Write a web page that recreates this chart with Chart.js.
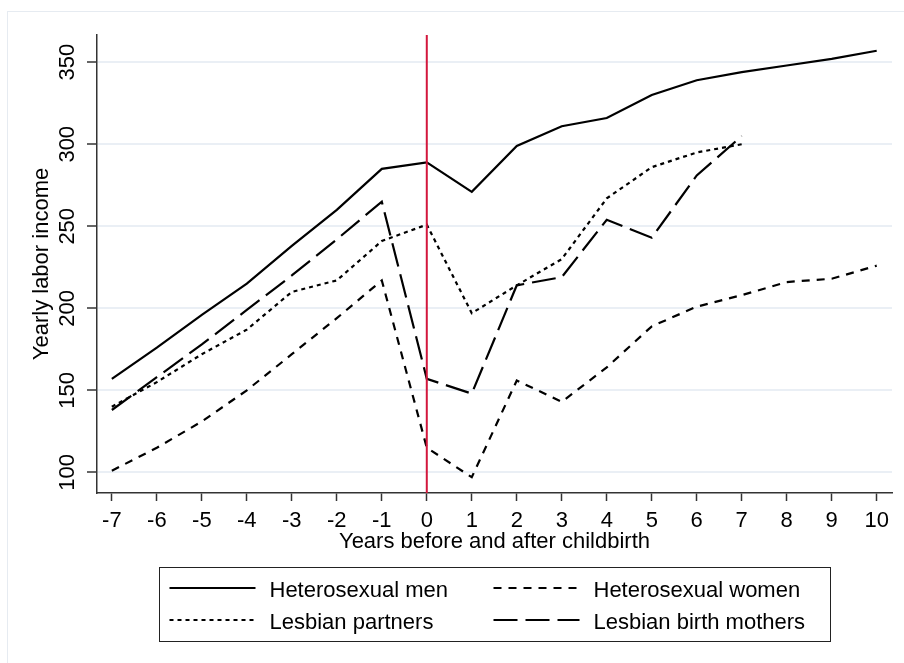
<!DOCTYPE html>
<html lang="en">
<head>
    <meta charset="UTF-8">
    <title>Yearly labor income around childbirth</title>
    <script src="https://cdn.jsdelivr.net/npm/chart.js"></script>
    <style>
        body {
            margin: 0;
            background-color: #fff;
        }
    </style>
</head>
<body>
    <canvas id="incomeChart" width="904" height="663"></canvas>
    <script>
        const years = [-7, -6, -5, -4, -3, -2, -1, 0, 1, 2, 3, 4, 5, 6, 7, 8, 9, 10];
        const yTicks = [100, 150, 200, 250, 300, 350];
        const birthYear = 0;

        const menIncome = [157, 176, 196, 215, 238, 260, 285, 289, 271, 299, 311, 316, 330, 339, 344, 348, 352, 357];
        const womenIncome = [101, 115, 131, 150, 172, 194, 217, 115, 97, 156, 143, 164, 189, 201, 208, 216, 218, 226];
        // lesbian couples are only observed up to year 7
        const partnersIncome = [140, 155, 172, 187, 210, 217, 241, 251, 197, 214, 230, 267, 286, 295, 300];
        const mothersIncome = [138, 158, 178, 199, 220, 242, 265, 157, 148, 214, 219, 254, 243, 281, 305];

        const FONT = '"Liberation Sans", Arial, sans-serif';

        function toPoints(values) {
            return values.map((v, i) => ({ x: years[i], y: v }));
        }

        function series(label, values, dash) {
            return {
                label: label,
                data: toPoints(values),
                borderColor: '#000',
                borderWidth: 2.2,
                borderDash: dash,
                pointRadius: 0,
                tension: 0,
                fill: false
            };
        }

        const decorations = {
            id: 'decorations',
            beforeDraw(chart) {
                const ctx = chart.ctx;
                ctx.save();
                ctx.strokeStyle = '#e6ebf1';
                ctx.lineWidth = 1;
                ctx.strokeRect(7.5, 11.5, chart.width, chart.height);
                ctx.restore();
            },
            afterDatasetsDraw(chart) {
                const { ctx, chartArea, scales } = chart;
                const x = scales.x, y = scales.y;

                // childbirth marker
                const px = x.getPixelForValue(birthYear);
                ctx.save();
                ctx.strokeStyle = '#d3173d';
                ctx.lineWidth = 2;
                ctx.beginPath();
                ctx.moveTo(px, chartArea.top);
                ctx.lineTo(px, chartArea.bottom);
                ctx.stroke();

                // y tick labels, rotated like the original
                ctx.fillStyle = '#000';
                ctx.font = '22px ' + FONT;
                ctx.textAlign = 'center';
                ctx.textBaseline = 'middle';
                y.ticks.forEach(t => {
                    const py = y.getPixelForValue(t.value);
                    ctx.save();
                    ctx.translate(y.right - 29, py);
                    ctx.rotate(-Math.PI / 2);
                    ctx.fillText(String(t.value), 0, 0);
                    ctx.restore();
                });
                ctx.restore();
            },
            afterDraw(chart) {
                const { ctx, chartArea, scales } = chart;
                const boxW = 671, boxH = 74;
                const cx = (chartArea.left + chartArea.right) / 2;
                const bx = Math.round(cx - boxW / 2) + 0.5;
                const by = Math.round(scales.x.bottom + 12) + 0.5;

                ctx.save();
                ctx.strokeStyle = '#222';
                ctx.lineWidth = 1;
                ctx.strokeRect(bx, by, boxW, boxH);

                ctx.font = '22px ' + FONT;
                ctx.fillStyle = '#000';
                ctx.textAlign = 'left';
                ctx.textBaseline = 'middle';
                chart.data.datasets.forEach((ds, i) => {
                    const col = i % 2, row = Math.floor(i / 2);
                    const lx = bx + 10 + col * 324;
                    const ly = by + 23 + row * 32;
                    ctx.setLineDash(ds.borderDash);
                    ctx.lineWidth = 2;
                    ctx.strokeStyle = ds.borderColor;
                    ctx.beginPath();
                    ctx.moveTo(lx, ly - 2.5);
                    ctx.lineTo(lx + 86, ly - 2.5);
                    ctx.stroke();
                    ctx.setLineDash([]);
                    ctx.fillText(ds.label, lx + 100, ly);
                });
                ctx.restore();
            }
        };

        new Chart(document.getElementById('incomeChart'), {
            type: 'line',
            data: {
                datasets: [
                    series('Heterosexual men', menIncome, []),
                    series('Heterosexual women', womenIncome, [8, 7]),
                    series('Lesbian partners', partnersIncome, [4, 4]),
                    series('Lesbian birth mothers', mothersIncome, [24, 8])
                ]
            },
            options: {
                responsive: false,
                animation: false,
                devicePixelRatio: 1,
                layout: {
                    padding: { left: 29, top: 35, right: 12, bottom: 108 }
                },
                plugins: {
                    legend: { display: false },
                    tooltip: { enabled: false }
                },
                scales: {
                    x: {
                        type: 'linear',
                        min: -7.33,
                        max: 10.34,
                        afterBuildTicks: s => { s.ticks = years.map(v => ({ value: v })); },
                        afterFit: s => { s.height = 62; },
                        grid: {
                            drawOnChartArea: false,
                            drawTicks: true,
                            tickLength: 8,
                            tickColor: '#333',
                            tickWidth: 1.5
                        },
                        border: { color: '#333', width: 1.5 },
                        ticks: {
                            color: '#000',
                            font: { size: 22, family: FONT },
                            padding: 7,
                            maxRotation: 0,
                            autoSkip: false
                        },
                        title: {
                            display: true,
                            text: 'Years before and after childbirth',
                            color: '#000',
                            font: { size: 22, family: FONT },
                            padding: 0
                        }
                    },
                    y: {
                        type: 'linear',
                        min: 87.4,
                        max: 366.6,
                        afterBuildTicks: s => { s.ticks = yTicks.map(v => ({ value: v })); },
                        afterFit: s => { s.width = 68; },
                        grid: {
                            color: '#eaeff5',
                            lineWidth: 2,
                            tickLength: 10,
                            tickColor: '#333',
                            tickWidth: 1.5
                        },
                        border: { color: '#333', width: 1.5 },
                        ticks: { display: false },
                        title: {
                            display: true,
                            text: 'Yearly labor income',
                            color: '#000',
                            font: { size: 22, family: FONT },
                            padding: 0
                        }
                    }
                }
            },
            plugins: [decorations]
        });
    </script>
</body>
</html>
